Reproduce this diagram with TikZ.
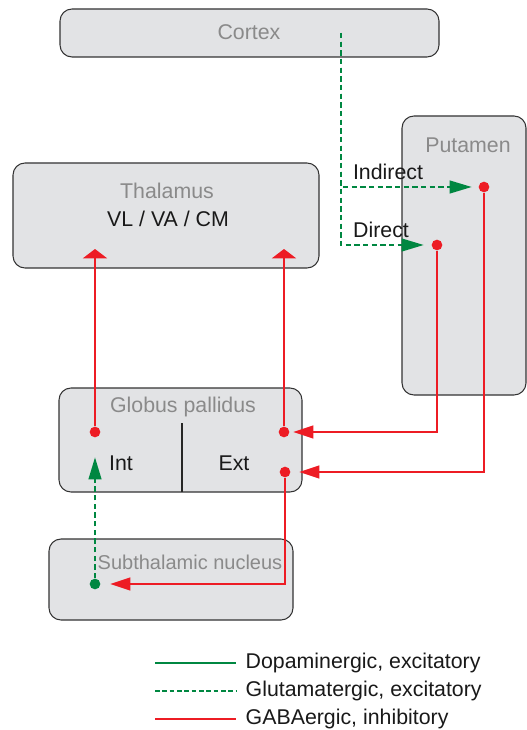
\documentclass[tikz,border=0pt]{standalone}
\usepackage{fontspec}
\setmainfont{Liberation Sans}
\usetikzlibrary{arrows.meta}

\definecolor{dopagreen}{RGB}{0,135,65}
\definecolor{gabared}{RGB}{237,28,36}
\definecolor{boxfill}{RGB}{226,227,229}
\definecolor{namegray}{RGB}{138,138,138}

\tikzset{
  region/.style={draw=black!80, fill=boxfill, line width=0.8pt, rounded corners=9pt},
  areaname/.style={text=namegray},
  plainlabel/.style={text=black!90},
  glut/.style={dopagreen, line width=1.5pt, dash pattern=on 4pt off 2.5pt},
  dopa/.style={dopagreen, line width=1.5pt},
  gaba/.style={gabared, line width=1.6pt},
  gtip/.style={-{Triangle[length=16.5pt, width=9.5pt]}},
  rtip/.style={-{Triangle[length=15pt, width=9.5pt]}},
  uptip/.style={-{Triangle[length=7pt, width=18pt]}},
  synapse/.style={circle, fill=#1, inner sep=0pt, minimum size=8pt}
}

\begin{document}
\begin{tikzpicture}[x=0.75pt, y=-0.75pt, font=\fontsize{16}{19}\selectfont]
  \useasboundingbox (0,0) rectangle (527,730);

  % boxes
  \draw[region] (60,9) rectangle (439,57);
  \draw[region] (402,116) rectangle (526,395);
  \draw[region] (13,163) rectangle (319,268);
  \draw[region] (59,388) rectangle (302,492);
  \draw[black!85, line width=0.8pt] (182,423) -- (182,492);
  \draw[region] (49,539) rectangle (293,620);

  \node[areaname] (cortexname) at (249,32) {Cortex};
  \node[areaname] (putname) at (468,145) {Putamen};
  \node[areaname] (thalname) at (167,191) {Thalamus};
  \node[plainlabel] (thalnuclei) at (168,219) {VL / VA / CM};
  \node[areaname] (gpname) at (183,407) {Globus pallidus};
  \node[plainlabel] (gpint) at (121,463) {Int};
  \node[plainlabel] (gpext) at (234,463) {Ext};
  \node[areaname, font=\fontsize{15}{18}\selectfont] (stnname) at (190,562) {Subthalamic nucleus};

  % synapse points
  \coordinate (ctxout) at (341,33);
  \node[synapse=gabared] (putind) at (484,187) {};
  \node[synapse=gabared] (putdir) at (437,245) {};
  \node[synapse=gabared] (gpiout) at (95,432) {};
  \node[synapse=gabared] (gpein) at (284,432) {};
  \node[synapse=gabared] (gpeout) at (285,472) {};
  \node[synapse=dopagreen] (stnout) at (95,584) {};
  \coordinate (thalin) at (95,249);
  \coordinate (thalinb) at (284,249);

  % cortex to putamen
  \draw[glut, gtip, shorten >=5pt] (ctxout) |- (putind);
  \draw[glut, gtip, shorten >=5.75pt] (ctxout) |- (putdir);
  \node[plainlabel] (indlabel) at (388,172) {Indirect};
  \node[plainlabel] (dirlabel) at (381,230) {Direct};

  % putamen to globus pallidus
  \draw[gaba, rtip, shorten >=2.75pt] (putdir) |- (gpein);
  \draw[gaba, rtip, shorten >=6.5pt] (putind) |- (gpeout);

  % pallidum to thalamus
  \draw[gaba, uptip] (gpiout) -- (thalin);
  \draw[gaba, uptip] (gpein) -- (thalinb);

  % pallidum ext to subthalamic nucleus and back
  \draw[gaba, rtip, shorten >=7.25pt] (gpeout) |- (stnout);
  \draw[glut, gtip, shorten >=14.75pt] (stnout) -- (gpiout);

  % legend
  \coordinate (keya) at (155,663);
  \coordinate (keyb) at (155,691);
  \coordinate (keyc) at (155,719);
  \node[plainlabel, anchor=west] (keytexta) at (241,663) {Dopaminergic, excitatory};
  \node[plainlabel, anchor=west] (keytextb) at (241,691) {Glutamatergic, excitatory};
  \node[plainlabel, anchor=west] (keytextc) at (241,719) {GABAergic, inhibitory};
  \draw[dopa] (keya) -- ([xshift=-3.5pt]keytexta.west);
  \draw[glut, dash pattern=on 3.5pt off 2pt] (keyb) -- ([xshift=-3.5pt]keytextb.west);
  \draw[gaba] (keyc) -- ([xshift=-3.5pt]keytextc.west);
\end{tikzpicture}
\end{document}
